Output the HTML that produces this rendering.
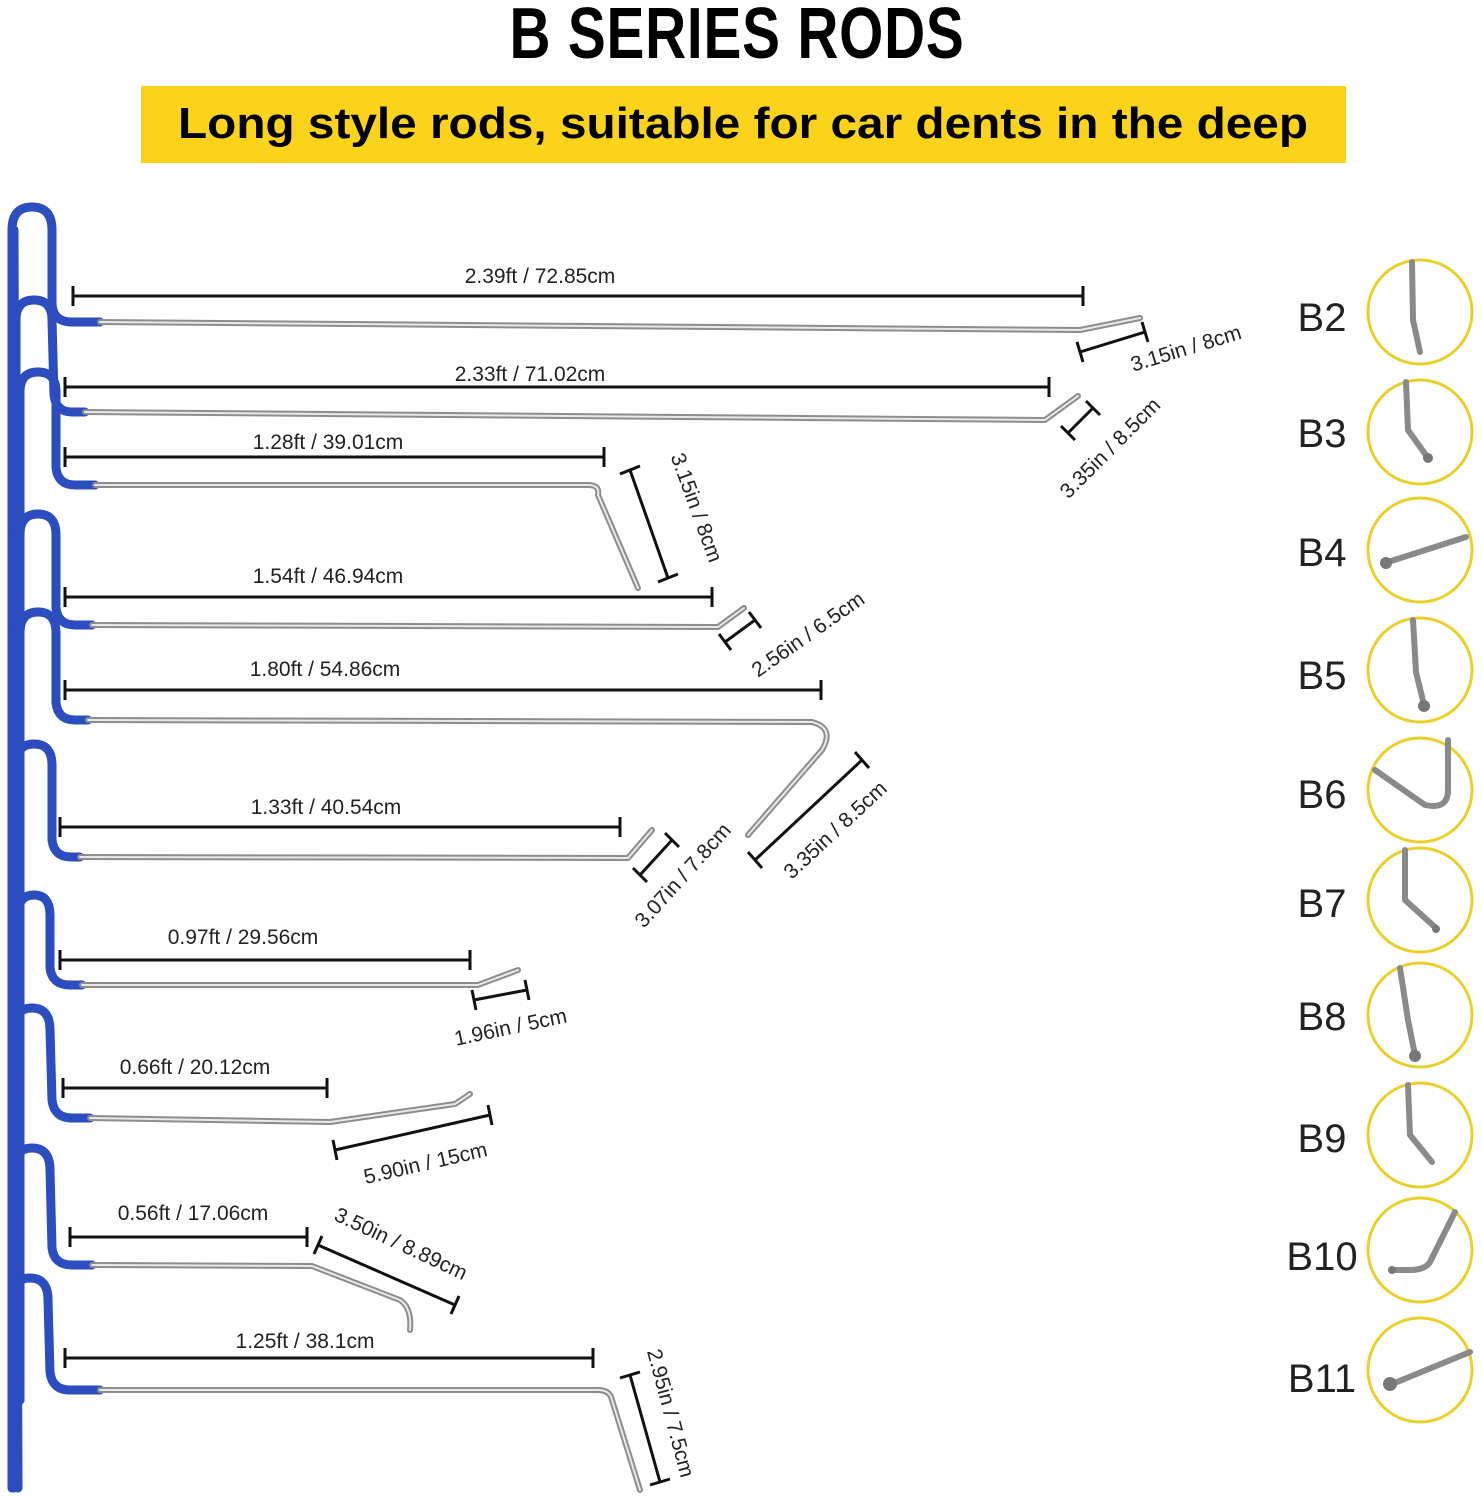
<!DOCTYPE html>
<html><head><meta charset="utf-8"><style>
html,body{margin:0;padding:0;background:#fff;}
svg{display:block}
text{font-family:"Liberation Sans",sans-serif;}
</style></head><body>
<svg width="1481" height="1500" viewBox="0 0 1481 1500" xmlns="http://www.w3.org/2000/svg">
<defs>
<g id="tick"><line x1="0" y1="-9" x2="0" y2="9" stroke="#111" stroke-width="3"/></g>
</defs>
<text x="737" y="58" text-anchor="middle" font-size="72" font-weight="bold" transform="scale(1,1)" style="letter-spacing:1px" textLength="455" lengthAdjust="spacingAndGlyphs">B SERIES RODS</text>
<rect x="141" y="86" width="1205" height="77" fill="#fbd31a"/>
<text x="743" y="138" text-anchor="middle" font-size="44" font-weight="bold" textLength="1130" lengthAdjust="spacingAndGlyphs">Long style rods, suitable for car dents in the deep</text>

<!-- blue column -->
<g fill="none" stroke="#2b4dbf" stroke-width="9" stroke-linecap="round">
<line x1="14" y1="230" x2="18" y2="1488"/>
<path d="M12 1488 L12 230 Q12 207 32 207 Q52 207 52 230 L52 302 Q52 322 72 322 L100 322"/>
<path d="M16 1400 L16 320 Q16 300 34 300 Q52 300 52 320 L54 395 Q56 412 72 412 L85 412"/>
<path d="M20 1400 L20 392 Q20 372 38 372 Q56 372 56 392 L56 468 Q58 485 75 485 L95 485"/>
<path d="M20 1400 L20 535 Q20 514 38 514 Q56 514 56 535 L56 608 Q58 625 75 625 L92 625"/>
<path d="M20 1400 L20 633 Q20 612 38 612 Q56 612 56 633 L56 703 Q58 720 75 720 L88 720"/>
<path d="M16 1400 L16 765 Q16 744 34 744 Q52 744 52 765 L52 840 Q54 857 71 857 L80 857"/>
<path d="M18 1400 L18 915 Q18 895 34 895 Q50 895 50 915 L50 968 Q52 985 70 985 L82 985"/>
<path d="M14 1400 L14 1030 Q14 1008 32 1008 Q50 1008 50 1030 L52 1100 Q54 1118 72 1118 L90 1118"/>
<path d="M14 1488 L14 1170 Q14 1148 32 1148 Q50 1148 50 1170 L52 1248 Q54 1265 72 1265 L92 1265"/>
<path d="M12 1488 L12 1300 Q12 1278 30 1278 Q48 1278 48 1300 L50 1372 Q52 1390 70 1390 L100 1390"/>
</g>

<!-- silver rods -->
<g fill="none" stroke-linejoin="round" stroke-linecap="round">
<g stroke="#8d8d8d" stroke-width="6">
<path d="M100 322 L1080 330 L1140 318"/>
<path d="M85 412 L1045 420 L1078 396"/>
<path d="M95 485 L588 485 Q600 485 598 495 L638 588"/>
<path d="M92 625 L718 627 L744 608"/>
<path d="M88 720 L812 722 Q835 728 822 750 L748 835"/>
<path d="M80 857 L628 858 L652 830"/>
<path d="M82 985 L478 985 L518 970"/>
<path d="M90 1118 L330 1122 L455 1104 L470 1094"/>
<path d="M92 1265 L312 1266 L400 1300 Q412 1308 410 1330"/>
<path d="M100 1390 L598 1390 Q610 1390 612 1400 L640 1490"/>
</g>
<g stroke="#e8e8e8" stroke-width="2">
<path d="M100 322 L1080 330 L1140 318"/>
<path d="M85 412 L1045 420 L1078 396"/>
<path d="M95 485 L588 485 Q600 485 598 495 L638 588"/>
<path d="M92 625 L718 627 L744 608"/>
<path d="M88 720 L812 722 Q835 728 822 750 L748 835"/>
<path d="M80 857 L628 858 L652 830"/>
<path d="M82 985 L478 985 L518 970"/>
<path d="M90 1118 L330 1122 L455 1104 L470 1094"/>
<path d="M92 1265 L312 1266 L400 1300 Q412 1308 410 1330"/>
<path d="M100 1390 L598 1390 Q610 1390 612 1400 L640 1490"/>
</g>
</g>

<!-- dimension lines -->
<g stroke="#111" stroke-width="3" fill="none">
<path d="M73 296 H1083 M73 286 V306 M1083 286 V306"/>
<path d="M65 387 H1049 M65 377 V397 M1049 377 V397"/>
<path d="M65 457 H604 M65 447 V467 M604 447 V467"/>
<path d="M65 597 H712 M65 587 V607 M712 587 V607"/>
<path d="M65 690 H821 M65 680 V700 M821 680 V700"/>
<path d="M60 827 H620 M60 817 V837 M620 817 V837"/>
<path d="M60 960 H470 M60 950 V970 M470 950 V970"/>
<path d="M63 1088 H327 M63 1078 V1098 M327 1078 V1098"/>
<path d="M70 1237 H307 M70 1227 V1247 M307 1227 V1247"/>
<path d="M65 1358 H593 M65 1348 V1368 M593 1348 V1368"/>
<!-- angled -->
<path d="M1080 352 L1145 332 M1077 342 L1083 362 M1142 322 L1148 342"/>
<path d="M1068 433 L1093 408 M1061 426 L1075 440 M1086 401 L1100 415"/>
<path d="M630 470 L668 578 M620 474 L640 466 M658 582 L678 574"/>
<path d="M725 642 L755 620 M719 634 L731 650 M749 612 L761 628"/>
<path d="M755 860 L862 760 M748 852 L762 868 M855 752 L869 768"/>
<path d="M640 875 L672 840 M633 868 L647 882 M665 833 L679 847"/>
<path d="M474 1000 L527 990 M472 990 L476 1010 M525 980 L529 1000"/>
<path d="M335 1150 L490 1115 M333 1140 L337 1160 M488 1105 L492 1125"/>
<path d="M318 1245 L455 1305 M314 1254 L322 1236 M451 1314 L459 1296"/>
<path d="M630 1375 L660 1482 M620 1378 L640 1372 M650 1485 L670 1479"/>
</g>

<!-- dim labels -->
<g font-size="21" fill="#222">
<text x="540" y="283" text-anchor="middle">2.39ft / 72.85cm</text>
<text x="530" y="381" text-anchor="middle">2.33ft / 71.02cm</text>
<text x="328" y="449" text-anchor="middle">1.28ft / 39.01cm</text>
<text x="328" y="583" text-anchor="middle">1.54ft / 46.94cm</text>
<text x="325" y="676" text-anchor="middle">1.80ft / 54.86cm</text>
<text x="326" y="814" text-anchor="middle">1.33ft / 40.54cm</text>
<text x="243" y="944" text-anchor="middle">0.97ft / 29.56cm</text>
<text x="195" y="1074" text-anchor="middle">0.66ft / 20.12cm</text>
<text x="193" y="1220" text-anchor="middle">0.56ft / 17.06cm</text>
<text x="305" y="1348" text-anchor="middle">1.25ft / 38.1cm</text>
<text transform="translate(1188,355) rotate(-17)" text-anchor="middle">3.15in / 8cm</text>
<text transform="translate(1115,453) rotate(-45)" text-anchor="middle">3.35in / 8.5cm</text>
<text transform="translate(690,510) rotate(70)" text-anchor="middle">3.15in / 8cm</text>
<text transform="translate(812,640) rotate(-35)" text-anchor="middle">2.56in / 6.5cm</text>
<text transform="translate(840,835) rotate(-43)" text-anchor="middle">3.35in / 8.5cm</text>
<text transform="translate(688,880) rotate(-48)" text-anchor="middle">3.07in / 7.8cm</text>
<text transform="translate(512,1034) rotate(-12)" text-anchor="middle">1.96in / 5cm</text>
<text transform="translate(427,1170) rotate(-13)" text-anchor="middle">5.90in / 15cm</text>
<text transform="translate(398,1250) rotate(25)" text-anchor="middle">3.50in / 8.89cm</text>
<text transform="translate(664,1415) rotate(75)" text-anchor="middle">2.95in / 7.5cm</text>
</g>

<!-- right column -->
<g font-size="40" fill="#222" text-anchor="middle">
<text x="1322" y="331">B2</text>
<text x="1322" y="447">B3</text>
<text x="1322" y="566">B4</text>
<text x="1322" y="689">B5</text>
<text x="1322" y="808">B6</text>
<text x="1322" y="917">B7</text>
<text x="1322" y="1030">B8</text>
<text x="1322" y="1152">B9</text>
<text x="1322" y="1270">B10</text>
<text x="1322" y="1392">B11</text>
</g>
<g fill="none" stroke="#ecd02a" stroke-width="3">
<circle cx="1420" cy="312" r="52"/>
<circle cx="1420" cy="432" r="52"/>
<circle cx="1420" cy="550" r="52"/>
<circle cx="1420" cy="670" r="52"/>
<circle cx="1420" cy="790" r="52"/>
<circle cx="1420" cy="900" r="52"/>
<circle cx="1420" cy="1015" r="52"/>
<circle cx="1420" cy="1135" r="52"/>
<circle cx="1420" cy="1250" r="52"/>
<circle cx="1420" cy="1370" r="52"/>
</g>
<g fill="none" stroke="#8a8a8a" stroke-width="6" stroke-linecap="round" stroke-linejoin="round">
<path d="M1412 262 L1413 320 L1420 352"/>
<path d="M1406 382 L1408 430 L1428 458"/>
<path d="M1466 537 L1388 562"/>
<path d="M1413 620 L1416 672 L1424 705"/>
<path d="M1448 740 L1448 790 Q1448 810 1425 805 L1375 770"/>
<path d="M1405 850 L1405 900 L1436 928"/>
<path d="M1400 968 L1408 1020 L1415 1055"/>
<path d="M1408 1085 L1410 1135 L1432 1162"/>
<path d="M1455 1212 L1430 1262 Q1425 1270 1410 1270 L1393 1270"/>
<path d="M1470 1352 L1392 1384"/>
</g>
<g fill="#777">
<circle cx="1428" cy="458" r="5"/><circle cx="1386" cy="563" r="6"/><circle cx="1424" cy="706" r="6"/>
<circle cx="1436" cy="929" r="4"/><circle cx="1415" cy="1056" r="6"/><circle cx="1390" cy="1384" r="7"/><circle cx="1392" cy="1270" r="4"/>
</g>
</svg>
</body></html>
